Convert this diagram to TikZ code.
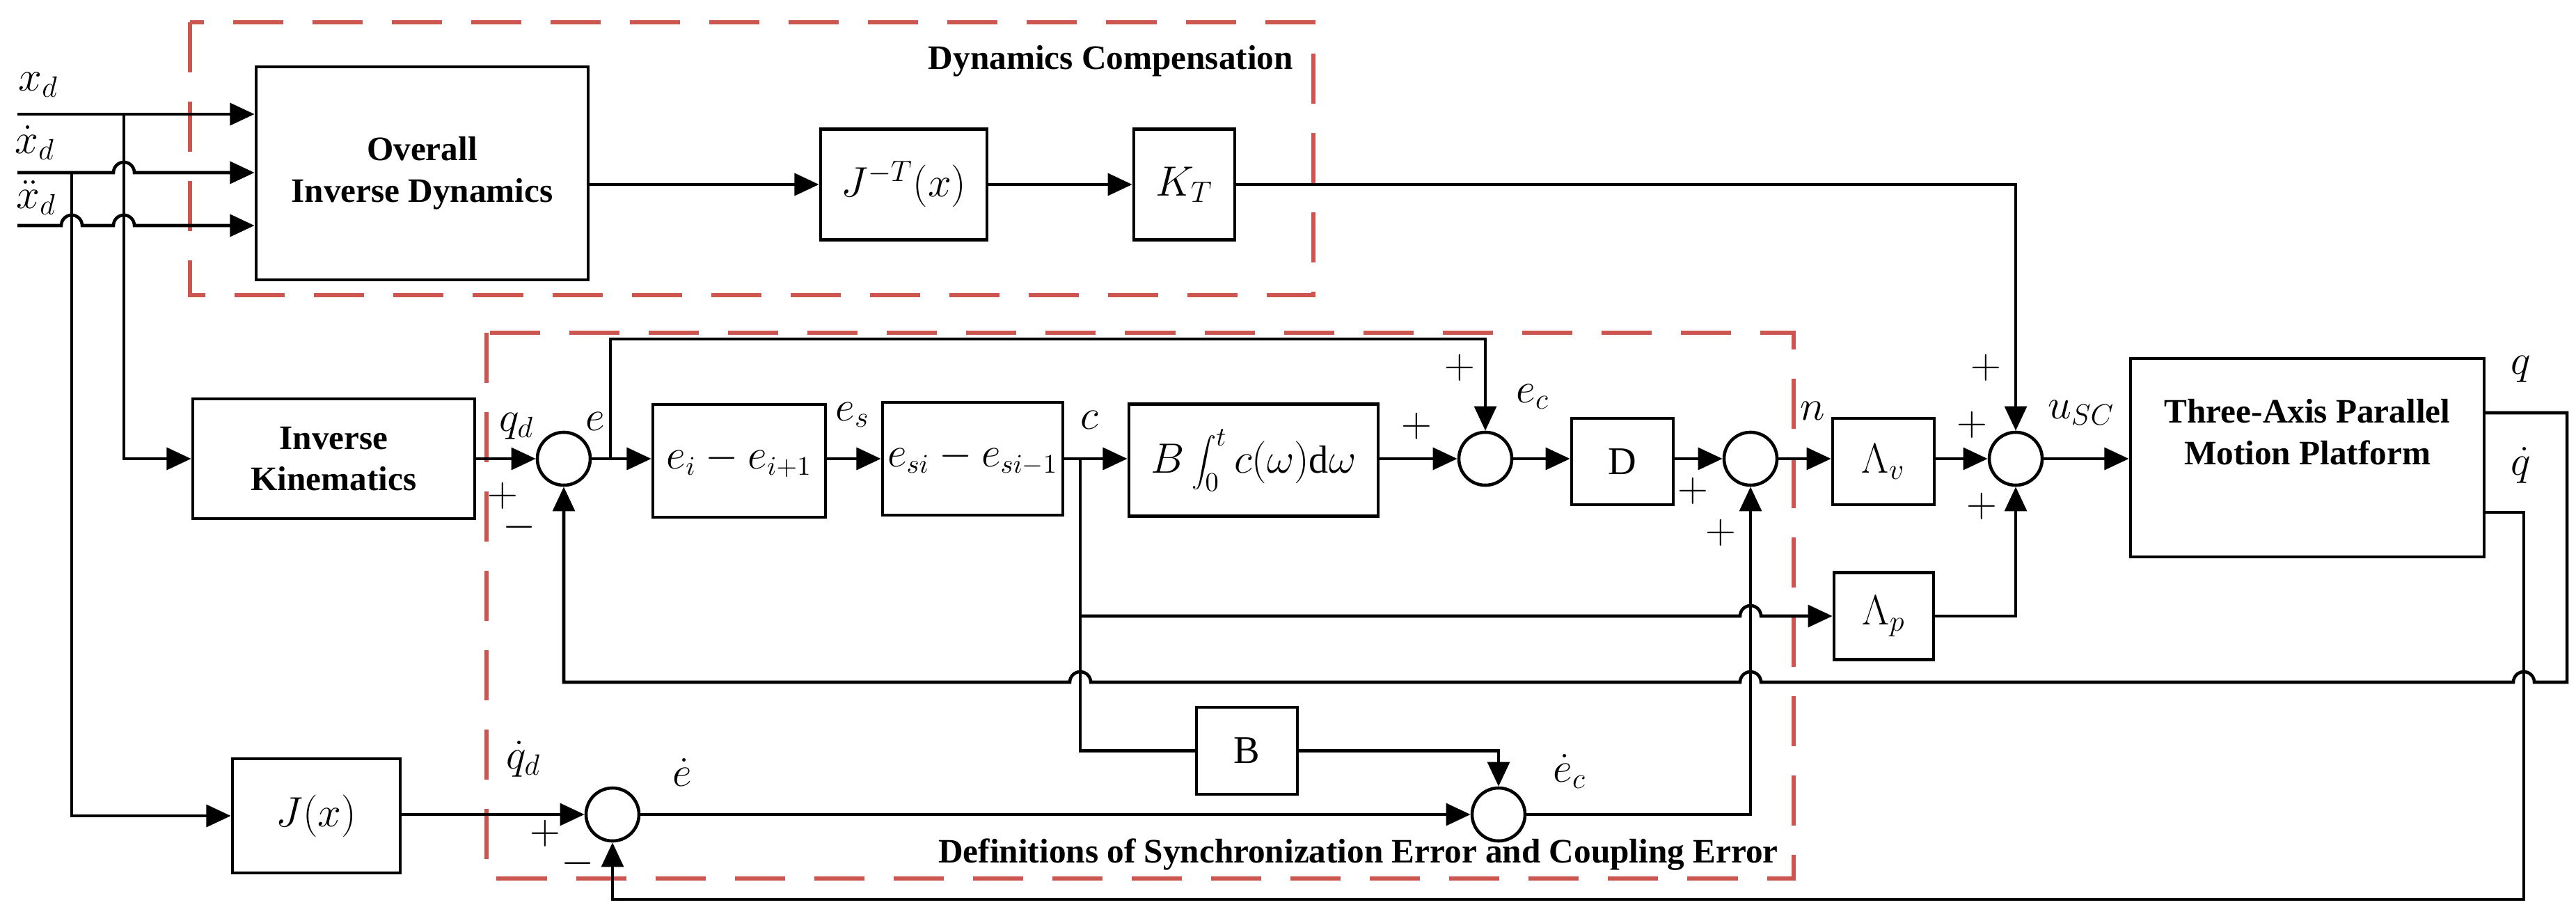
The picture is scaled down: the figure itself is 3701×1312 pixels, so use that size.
\documentclass[tikz,border=0pt]{standalone}
\usepackage{fontspec}
\setmainfont{Liberation Serif}
\usetikzlibrary{arrows.meta}
\definecolor{dred}{RGB}{205,85,80}
\begin{document}
\begin{tikzpicture}[x=0.01cm,y=-0.01cm,line width=1.3pt,
  blk/.style={draw,rectangle,inner sep=0pt,font=\fontsize{16}{18}\selectfont},
  bold/.style={font=\fontsize{14}{17}\selectfont\bfseries,align=center},
  sum/.style={draw,circle,minimum size=0.76cm,inner sep=0pt},
  arr/.style={-{Triangle[length=10pt,width=9pt]}},
  lbl/.style={font=\fontsize{18}{20}\selectfont,inner sep=0pt},
  sgn/.style={font=\fontsize{16}{18}\selectfont,inner sep=0pt},
  grp/.style={draw=dred,line width=1.6pt,dash pattern=on 0.72cm off 0.42cm},
  grpcap/.style={font=\fontsize{14}{17}\selectfont\bfseries,inner sep=0pt}]
\useasboundingbox (0,0) rectangle (3701,1312);
% groups
\draw[grp] (273,32) rectangle (1887,424);
\draw[grp] (699,478) rectangle (2577,1262);
\node[grpcap,anchor=east] (dc) at (1860,88) {Dynamics Compensation};
\node[grpcap,anchor=east] (ds) at (2557,1228) {Definitions of Synchronization Error and Coupling Error};
% blocks
\node[blk,bold,minimum width=4.77cm,minimum height=3.06cm] (oid) at (606.5,249) {Overall\\Inverse Dynamics};
\node[blk,minimum width=2.39cm,minimum height=1.59cm,font=\fontsize{18}{20}\selectfont] (jt) at (1298.5,265) {$J^{-T}(x)$};
\node[blk,minimum width=1.45cm,minimum height=1.59cm,font=\fontsize{18}{20}\selectfont] (kt) at (1701.5,265) {$K_T$};
\node[blk,bold,minimum width=4.05cm,minimum height=1.72cm] (ik) at (479.5,659) {Inverse\\Kinematics};
\node[blk,minimum width=2.48cm,minimum height=1.62cm] (b1) at (1062,662) {$e_i-e_{i+1}$};
\node[blk,minimum width=2.59cm,minimum height=1.62cm] (b2) at (1397.5,659) {$e_{si}-e_{si-1}$};
\node[blk,minimum width=3.58cm,minimum height=1.61cm] (b3) at (1801,661) {$B\displaystyle\int_0^t c(\omega)\mathrm{d}\omega$};
\node[blk,minimum width=1.46cm,minimum height=1.24cm] (D) at (2331,663) {D};
\node[blk,minimum width=1.46cm,minimum height=1.24cm,font=\fontsize{18}{20}\selectfont] (Lv) at (2706,663) {$\Lambda_v$};
\node[blk,minimum width=1.43cm,minimum height=1.25cm,font=\fontsize{18}{20}\selectfont] (Lp) at (2706.5,885) {$\Lambda_p$};
\node[blk,bold,minimum width=5.08cm,minimum height=2.85cm] (plat) at (3315,657.5) {Three-Axis Parallel\\Motion Platform\\[0.15cm]};
\node[blk,minimum width=2.41cm,minimum height=1.64cm,font=\fontsize{18}{20}\selectfont] (jx) at (454.5,1172) {$J(x)$};
\node[blk,minimum width=1.45cm,minimum height=1.25cm] (Bb) at (1791.5,1078.5) {B};
% sums
\node[sum] (s1) at (810,659) {};
\node[sum] (s2) at (2134,659) {};
\node[sum] (s3) at (2515,659) {};
\node[sum] (s4) at (2896,659) {};
\node[sum] (s5) at (880,1170) {};
\node[sum] (s6) at (2153,1170) {};
% inputs
\coordinate (in1) at (25,164);
\coordinate (in2) at (25,248);
\coordinate (in3) at (25,324);
\coordinate (j1) at (178,164);
\coordinate (j2) at (103,248);
\node[lbl] (lx1) at (55,122) {$x_d$};
\node[lbl] (lx2) at (50,205) {$\dot{x}_d$};
\node[lbl] (lx3) at (52,284) {$\ddot{x}_d$};
\draw[arr] (in1) -- (in1 -| oid.west);
\draw[arr] (in2) -- (163,248) arc (180:0:0.15cm) -- (in2 -| oid.west);
\draw[arr] (in3) -- (88,324) arc (180:0:0.15cm) -- (163,324) arc (180:0:0.15cm) -- (in3 -| oid.west);
\draw[arr] (j1) |- (ik.west);
\draw[arr] (j2) |- (jx.west);
% top row
\draw[arr] (oid.east |- jt) -- (jt.west);
\draw[arr] (jt) -- (kt);
\draw[arr] (kt.east) -| (s4.north);
% main row
\draw[arr] (ik.east |- s1) -- (s1.west);
\draw[arr] (s1.east) -- (b1.west |- s1);
\coordinate (eb) at (877,659);
\draw[arr] (eb) -- (877,487) -| (s2.north);
\draw[arr] (b1.east |- s1) -- (b2.west);
\draw[arr] (b2.east) -- (b3.west |- b2);
\draw[arr] (b3.east |- s2) -- (s2.west);
\draw[arr] (s2.east) -- (D.west |- s2);
\draw[arr] (D.east |- s3) -- (s3.west);
\draw[arr] (s3.east) -- (Lv.west |- s3);
\draw[arr] (Lv.east |- s4) -- (s4.west);
\draw[arr] (s4.east) -- (plat.west |- s4);
% c branch
\coordinate (cb) at (1552,659);
\coordinate (cp) at (1552,885);
\draw (cb) |- (Bb.west);
\draw[arr] (cp) -- (2500,885) arc (180:0:0.15cm) -- (Lp.west);
\draw[arr] (Lp.east) -| (s4.south);
\draw[arr] (Bb.east) -| (s6.north);
\draw[arr] (jx.east |- s5) -- (s5.west);
\draw[arr] (s5.east) -- (s6.west);
\draw[arr] (s6.east) -| (s3.south);
% feedback
\coordinate (qo) at (3569,593);
\coordinate (qdo) at (3569,736);
\draw[arr] (qo) -- (3688,593) -- (3688,980) -- (3641,980) arc (0:180:0.15cm) -- (2530,980) arc (0:180:0.15cm) -- (1567,980) arc (0:180:0.15cm) -| (s1.south);
\draw[arr] (qdo) -- (3626,736) -- (3626,1292) -| (s5.south);
% labels
\node[lbl] (lqd) at (742,612) {$q_d$};
\node[lbl] (le) at (855,605) {$e$};
\node[sgn] at (722,712) {$+$};
\node[sgn] at (746,757) {$-$};
\node[lbl] (les) at (1225,596) {$e_s$};
\node[lbl] (lc) at (1565,603) {$c$};
\node[sgn] at (2035,612) {$+$};
\node[sgn] at (2097,528) {$+$};
\node[lbl] (lec) at (2202,570) {$e_c$};
\node[sgn] at (2432,705) {$+$};
\node[sgn] at (2472,765) {$+$};
\node[lbl] (ln) at (2604,590) {$n$};
\node[sgn] at (2853,528) {$+$};
\node[sgn] at (2833,610) {$+$};
\node[sgn] at (2847,727) {$+$};
\node[lbl] (lu) at (2990,593) {$u_{SC}$};
\node[lbl] (lq) at (3622,530) {$q$};
\node[lbl] (lqq) at (3622,668) {$\dot{q}$};
\node[lbl] (lqdd) at (752,1090) {$\dot{q}_d$};
\node[lbl] (led) at (980,1110) {$\dot{e}$};
\node[sgn] at (783,1197) {$+$};
\node[sgn] at (830,1240) {$-$};
\node[lbl] (lecd) at (2255,1108) {$\dot{e}_c$};
\end{tikzpicture}
\end{document}
